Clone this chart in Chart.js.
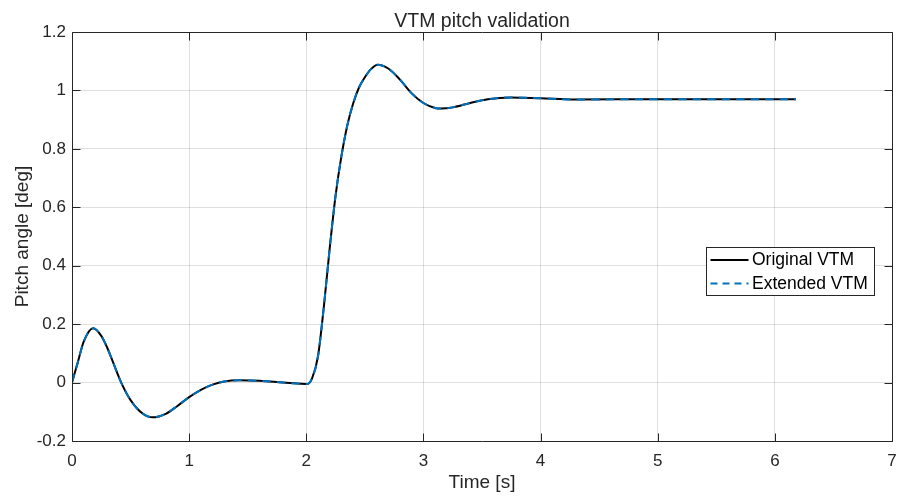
<!DOCTYPE html>
<html>
<head>
<meta charset="utf-8">
<title>VTM pitch validation</title>
<script src="https://cdn.jsdelivr.net/npm/chart.js@4/dist/chart.umd.min.js"></script>
<style>
  html, body { margin: 0; padding: 0; background: #ffffff; }
  #wrap { width: 898px; height: 496px; position: relative; }
</style>
</head>
<body>
<div id="wrap"><canvas id="chart" width="898" height="496"></canvas></div>
<script>
// Simulation time [s]
const timeS = [
  0, 0.05, 0.1, 0.18, 0.25, 0.3, 0.35, 0.42, 0.5, 0.6, 0.69, 0.8, 0.9, 1.0, 1.1,
  1.2, 1.3, 1.43, 1.6, 1.8, 1.95, 2.01, 2.05, 2.1, 2.15, 2.2, 2.25, 2.3, 2.35,
  2.4, 2.45, 2.5, 2.55, 2.61, 2.7, 2.8, 2.9, 3.0, 3.1, 3.15, 3.25, 3.4, 3.55,
  3.75, 4.0, 4.3, 5.0, 6.18
];
// Pitch angle of the original vertical tail model [deg]
const pitchOriginal = [
  0, 0.07, 0.14, 0.186, 0.16, 0.12, 0.07, 0.0, -0.06, -0.105, -0.119, -0.107, -0.08, -0.05, -0.025,
  -0.007, 0.004, 0.008, 0.006, 0.0, -0.004, -0.005, 0.015, 0.09, 0.26, 0.46, 0.64, 0.775, 0.88,
  0.955, 1.01, 1.045, 1.072, 1.088, 1.075, 1.037, 0.99, 0.957, 0.94, 0.938, 0.942, 0.957, 0.97,
  0.976, 0.973, 0.969, 0.97, 0.97
];
// Pitch angle of the extended vertical tail model [deg]
const pitchExtended = [
  0, 0.07, 0.14, 0.186, 0.16, 0.12, 0.07, 0.0, -0.06, -0.105, -0.119, -0.107, -0.08, -0.05, -0.025,
  -0.007, 0.004, 0.008, 0.006, 0.0, -0.004, -0.005, 0.015, 0.09, 0.26, 0.46, 0.64, 0.775, 0.88,
  0.955, 1.01, 1.045, 1.072, 1.088, 1.075, 1.037, 0.99, 0.957, 0.94, 0.938, 0.942, 0.957, 0.97,
  0.976, 0.973, 0.969, 0.97, 0.97
];
const seriesNames = ['Original VTM', 'Extended VTM'];
const xTicks = [0, 1, 2, 3, 4, 5, 6, 7];
const yTicks = [-0.2, 0, 0.2, 0.4, 0.6, 0.8, 1, 1.2];
const chartTitle = 'VTM pitch validation';
const xLabel = 'Time [s]';
const yLabel = 'Pitch angle [deg]';

const FONT = '"Liberation Sans", Arial, Helvetica, sans-serif';
const AXIS_COLOR = '#262626';
const GRID_COLOR = 'rgba(38,38,38,0.15)';
const BLUE = '#0072BD';

const toPoints = (xs, ys) => xs.map((x, i) => ({ x: x, y: ys[i] }));

// Axes box, inward ticks on all four sides, title and legend
const matlabAxes = {
  id: 'matlabAxes',
  afterDatasetsDraw(chart) {
    const { ctx, chartArea: a, scales } = chart;
    const L = a.left + 0.5, R = a.right + 0.5, T = a.top + 0.5, B = a.bottom + 0.5;
    ctx.save();
    ctx.strokeStyle = AXIS_COLOR;
    ctx.lineWidth = 1;
    ctx.beginPath();
    ctx.rect(L, T, R - L, B - T);
    ctx.stroke();
    const tl = 8;
    ctx.beginPath();
    xTicks.forEach(v => {
      const px = Math.round(scales.x.getPixelForValue(v)) + 0.5;
      ctx.moveTo(px, B); ctx.lineTo(px, B - tl);
      ctx.moveTo(px, T); ctx.lineTo(px, T + tl);
    });
    yTicks.forEach(v => {
      const py = Math.round(scales.y.getPixelForValue(v)) + 0.5;
      ctx.moveTo(L, py); ctx.lineTo(L + tl, py);
      ctx.moveTo(R, py); ctx.lineTo(R - tl, py);
    });
    ctx.stroke();

    // title
    ctx.fillStyle = AXIS_COLOR;
    ctx.font = '19.5px ' + FONT;
    ctx.textAlign = 'center';
    ctx.textBaseline = 'alphabetic';
    ctx.fillText(chartTitle, (a.left + a.right) / 2, 26.5);

    // legend
    const lx = 706.5, ly = 247.5, lw = 168, lh = 48;
    ctx.fillStyle = '#ffffff';
    ctx.fillRect(lx, ly, lw, lh);
    ctx.strokeStyle = AXIS_COLOR;
    ctx.strokeRect(lx, ly, lw, lh);
    ctx.font = '17.5px ' + FONT;
    ctx.textAlign = 'left';
    ctx.textBaseline = 'middle';
    chart.data.datasets.forEach((ds, i) => {
      const cy = ly + 12.5 + i * 23.5;
      ctx.strokeStyle = ds.borderColor;
      ctx.lineWidth = 2;
      ctx.setLineDash(i === 1 ? [7, 5] : []);
      ctx.beginPath();
      ctx.moveTo(lx + 4, cy);
      ctx.lineTo(lx + 42, cy);
      ctx.stroke();
      ctx.setLineDash([]);
      ctx.fillStyle = '#000000';
      ctx.fillText(ds.label, lx + 45.5, cy + 0.5);
    });
    ctx.restore();
  }
};

new Chart(document.getElementById('chart'), {
  type: 'line',
  data: {
    datasets: [
      {
        label: seriesNames[0],
        data: toPoints(timeS, pitchOriginal),
        borderColor: '#000000',
        borderWidth: 2,
        pointRadius: 0,
        cubicInterpolationMode: 'monotone',
        fill: false,
        order: 2
      },
      {
        label: seriesNames[1],
        data: toPoints(timeS, pitchExtended),
        borderColor: BLUE,
        borderWidth: 2,
        borderDash: [8.5, 6],
        pointRadius: 0,
        cubicInterpolationMode: 'monotone',
        fill: false,
        order: 1
      }
    ]
  },
  options: {
    responsive: false,
    animation: false,
    devicePixelRatio: 1,
    layout: { padding: { top: 32, right: 6, left: 0, bottom: 0 } },
    plugins: {
      legend: { display: false },
      tooltip: { enabled: false },
      title: { display: false }
    },
    scales: {
      x: {
        type: 'linear',
        min: 0, max: 7,
        afterFit(scale) { scale.height = 55; scale.paddingLeft = 0; scale.paddingRight = 0; },
        afterBuildTicks(scale) { scale.ticks = xTicks.map(v => ({ value: v })); },
        grid: { color: GRID_COLOR, drawTicks: false, lineWidth: 1 },
        border: { display: false },
        ticks: {
          color: AXIS_COLOR,
          padding: 10,
          maxRotation: 0,
          font: { family: FONT, size: 17 },
          callback: v => String(v)
        },
        title: {
          display: true,
          text: xLabel,
          color: AXIS_COLOR,
          font: { family: FONT, size: 19 },
          padding: { top: 0, bottom: 2 }
        }
      },
      y: {
        type: 'linear',
        min: -0.2, max: 1.2,
        afterFit(scale) { scale.width = 72; scale.paddingTop = 0; scale.paddingBottom = 0; },
        afterBuildTicks(scale) { scale.ticks = yTicks.map(v => ({ value: v })); },
        grid: { color: GRID_COLOR, drawTicks: false, lineWidth: 1 },
        border: { display: false },
        ticks: {
          color: AXIS_COLOR,
          padding: 6,
          font: { family: FONT, size: 17 },
          callback: v => String(Math.round(v * 10) / 10)
        },
        title: {
          display: true,
          text: yLabel,
          color: AXIS_COLOR,
          font: { family: FONT, size: 19 },
          padding: { top: 11, bottom: 0 }
        }
      }
    }
  },
  plugins: [matlabAxes]
});
</script>
</body>
</html>
